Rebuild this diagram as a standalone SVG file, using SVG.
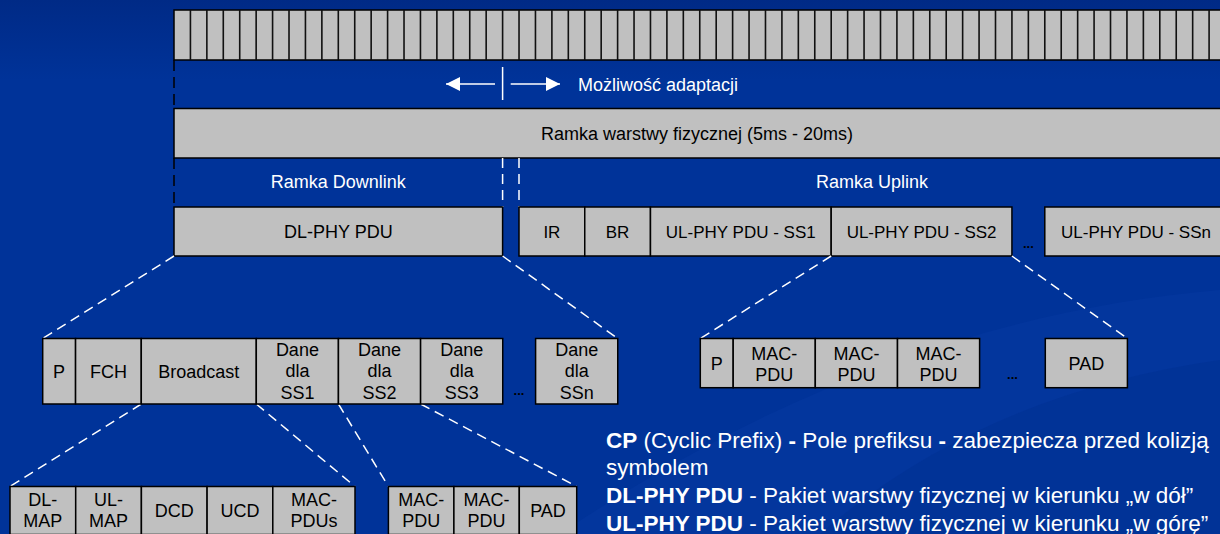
<svg xmlns="http://www.w3.org/2000/svg" width="1220" height="534" viewBox="0 0 1220 534">
<defs>
<linearGradient id="bg" x1="0" y1="0" x2="0" y2="1">
<stop offset="0" stop-color="#002a86"/>
<stop offset="0.15" stop-color="#003399"/>
<stop offset="1" stop-color="#003399"/>
</linearGradient>
<marker id="ah" viewBox="0 0 14 14" refX="14" refY="7" markerUnits="userSpaceOnUse" markerWidth="14" markerHeight="14" orient="auto">
<path d="M0,0 L14,7 L0,14 Z" fill="#fff"/>
</marker>
</defs>
<style>
.box{fill:#c0c0c0;stroke:#000;stroke-width:1.5}
.t{font-family:"Liberation Sans",Arial,sans-serif;font-size:18px;fill:#000;text-anchor:middle}
.u{font-size:17px}
.w{fill:#fff}
.dots{font-family:"Liberation Sans",Arial,sans-serif;font-size:13px;font-weight:bold;fill:#000;text-anchor:middle}
.dash{stroke:#fff;stroke-width:1.5;stroke-dasharray:10 6;fill:none}
.bdash{stroke:#000;stroke-width:1.5;stroke-dasharray:11 6;fill:none}
.note{font-family:"Liberation Sans",Arial,sans-serif;font-size:22.5px;fill:#fff}
.b{font-weight:bold}
</style>
<rect x="0" y="0" width="1220" height="534" fill="url(#bg)"/>
<path d="M560 534 C 760 400, 980 310, 1220 290 L1220 534 Z" fill="#0a3ca6" opacity="0.35"/>
<path d="M820 534 C 940 430, 1080 380, 1220 360 L1220 534 Z" fill="#002f92" opacity="0.5"/>

<g id="timeslots">
<rect x="174" y="10" width="1060" height="50" class="box"/>
<path d="M190.43 10V60M206.86 10V60M223.29 10V60M239.72 10V60M256.15 10V60M272.58 10V60M289.01 10V60M305.44 10V60M321.87 10V60M338.3 10V60M354.73 10V60M371.16 10V60M387.59 10V60M404.02 10V60M420.45 10V60M436.88 10V60M453.31 10V60M469.74 10V60M486.17 10V60M502.6 10V60M519.03 10V60M535.46 10V60M551.89 10V60M568.32 10V60M584.75 10V60M601.18 10V60M617.61 10V60M634.04 10V60M650.47 10V60M666.9 10V60M683.33 10V60M699.76 10V60M716.19 10V60M732.62 10V60M749.05 10V60M765.48 10V60M781.91 10V60M798.34 10V60M814.77 10V60M831.2 10V60M847.63 10V60M864.06 10V60M880.49 10V60M896.92 10V60M913.35 10V60M929.78 10V60M946.21 10V60M962.64 10V60M979.07 10V60M995.5 10V60M1011.93 10V60M1028.36 10V60M1044.79 10V60M1061.22 10V60M1077.65 10V60M1094.08 10V60M1110.51 10V60M1126.94 10V60M1143.37 10V60M1159.8 10V60M1176.23 10V60M1192.66 10V60M1209.09 10V60" stroke="#111" stroke-width="1.6" fill="none"/>
</g>

<g id="adaptation">
<line x1="495" y1="84" x2="446" y2="84" stroke="#fff" stroke-width="1.5" marker-end="url(#ah)"/>
<line x1="510.7" y1="84" x2="560" y2="84" stroke="#fff" stroke-width="1.5" marker-end="url(#ah)"/>
<line x1="502.6" y1="67" x2="502.6" y2="100" stroke="#fff" stroke-width="1.5"/>
<text x="578" y="90.5" class="t w" style="text-anchor:start">Możliwość adaptacji</text>
</g>

<g id="frame">
<rect x="174" y="108.5" width="1060" height="49.5" class="box"/>
<text x="697" y="139.5" class="t">Ramka warstwy fizycznej (5ms - 20ms)</text>
</g>

<g id="frame-edges">
<path d="M174 60V108M174 158V207" class="bdash"/>
<path d="M502.6 158V207M519 158V207" class="dash"/>
</g>

<g id="downlink-label"><text x="338.3" y="188" class="t w">Ramka Downlink</text></g>
<g id="uplink-label"><text x="872" y="188" class="t w">Ramka Uplink</text></g>

<g id="dl-phy-pdu">
<rect x="174" y="207" width="328.6" height="49" class="box"/>
<text x="338.3" y="238" class="t">DL-PHY PDU</text>
</g>
<g id="ir"><rect x="519" y="207" width="65.75" height="49" class="box"/><text x="551.9" y="238" class="t u">IR</text></g>
<g id="br"><rect x="584.75" y="207" width="65.72" height="49" class="box"/><text x="617.6" y="238" class="t u">BR</text></g>
<g id="ul-ss1"><rect x="650.47" y="207" width="180.73" height="49" class="box"/><text x="740.8" y="238" class="t u">UL-PHY PDU - SS1</text></g>
<g id="ul-ss2"><rect x="831.2" y="207" width="180.73" height="49" class="box"/><text x="921.6" y="238" class="t u">UL-PHY PDU - SS2</text></g>
<g id="ul-dots"><text x="1028.4" y="248" class="dots">...</text></g>
<g id="ul-ssn"><rect x="1044.79" y="207" width="190" height="49" class="box"/><text x="1136" y="238" class="t u">UL-PHY PDU - SSn</text></g>

<g id="connectors">
<line x1="174" y1="256" x2="42.7" y2="338.5" class="dash"/>
<line x1="502.6" y1="256" x2="617.75" y2="338.5" class="dash"/>
<line x1="831.2" y1="256" x2="700.3" y2="338.5" class="dash"/>
<line x1="1011.9" y1="256" x2="1127.4" y2="338.5" class="dash"/>
<line x1="141.28" y1="404" x2="10" y2="486.5" class="dash"/>
<line x1="256.29" y1="404" x2="355" y2="486.5" class="dash"/>
<line x1="338.44" y1="404" x2="388.4" y2="486.5" class="dash"/>
<line x1="420.59" y1="404" x2="576.7" y2="486.5" class="dash"/>
</g>

<g id="dl-p"><rect x="42.7" y="338.5" width="32.86" height="65.5" class="box"/><text x="59.1" y="377.5" class="t">P</text></g>
<g id="dl-fch"><rect x="75.56" y="338.5" width="65.72" height="65.5" class="box"/><text x="108.4" y="377.5" class="t">FCH</text></g>
<g id="dl-broadcast"><rect x="141.28" y="338.5" width="115.01" height="65.5" class="box"/><text x="198.8" y="377.5" class="t">Broadcast</text></g>
<g id="dl-ss1"><rect x="256.29" y="338.5" width="82.15" height="65.5" class="box"/><text class="t"><tspan x="297.4" y="355.5">Dane</tspan><tspan x="297.4" y="377">dla</tspan><tspan x="297.4" y="398.5">SS1</tspan></text></g>
<g id="dl-ss2"><rect x="338.44" y="338.5" width="82.15" height="65.5" class="box"/><text class="t"><tspan x="379.5" y="355.5">Dane</tspan><tspan x="379.5" y="377">dla</tspan><tspan x="379.5" y="398.5">SS2</tspan></text></g>
<g id="dl-ss3"><rect x="420.59" y="338.5" width="82.15" height="65.5" class="box"/><text class="t"><tspan x="461.7" y="355.5">Dane</tspan><tspan x="461.7" y="377">dla</tspan><tspan x="461.7" y="398.5">SS3</tspan></text></g>
<g id="dl-dots"><text x="519" y="395" class="dots">...</text></g>
<g id="dl-ssn"><rect x="535.6" y="338.5" width="82.15" height="65.5" class="box"/><text class="t"><tspan x="576.7" y="355.5">Dane</tspan><tspan x="576.7" y="377">dla</tspan><tspan x="576.7" y="398.5">SSn</tspan></text></g>

<g id="ul-p"><rect x="700.3" y="338.5" width="32.9" height="49.2" class="box"/><text x="716.7" y="369.5" class="t">P</text></g>
<g id="ul-mac1"><rect x="733.2" y="338.5" width="82.1" height="49.2" class="box"/><text class="t"><tspan x="774.2" y="359.5">MAC-</tspan><tspan x="774.2" y="380.5">PDU</tspan></text></g>
<g id="ul-mac2"><rect x="815.3" y="338.5" width="82.2" height="49.2" class="box"/><text class="t"><tspan x="856.4" y="359.5">MAC-</tspan><tspan x="856.4" y="380.5">PDU</tspan></text></g>
<g id="ul-mac3"><rect x="897.5" y="338.5" width="82.1" height="49.2" class="box"/><text class="t"><tspan x="938.5" y="359.5">MAC-</tspan><tspan x="938.5" y="380.5">PDU</tspan></text></g>
<g id="ul-dots2"><text x="1012.5" y="379" class="dots">...</text></g>
<g id="ul-pad"><rect x="1045.3" y="338.5" width="82.1" height="49.2" class="box"/><text x="1086.4" y="369.5" class="t">PAD</text></g>

<g id="bc-dlmap"><rect x="10" y="486.5" width="65.7" height="48" class="box"/><text class="t"><tspan x="42.85" y="505.5">DL-</tspan><tspan x="42.85" y="527">MAP</tspan></text></g>
<g id="bc-ulmap"><rect x="75.7" y="486.5" width="65.7" height="48" class="box"/><text class="t"><tspan x="108.55" y="505.5">UL-</tspan><tspan x="108.55" y="527">MAP</tspan></text></g>
<g id="bc-dcd"><rect x="141.4" y="486.5" width="65.7" height="48" class="box"/><text x="174.25" y="517" class="t">DCD</text></g>
<g id="bc-ucd"><rect x="207.1" y="486.5" width="65.7" height="48" class="box"/><text x="239.95" y="517" class="t">UCD</text></g>
<g id="bc-macpdus"><rect x="272.8" y="486.5" width="82.2" height="48" class="box"/><text class="t"><tspan x="313.9" y="505.5">MAC-</tspan><tspan x="313.9" y="527">PDUs</tspan></text></g>

<g id="ss-mac1"><rect x="388.4" y="486.5" width="65.5" height="48" class="box"/><text class="t"><tspan x="421.15" y="505.5">MAC-</tspan><tspan x="421.15" y="527">PDU</tspan></text></g>
<g id="ss-mac2"><rect x="453.9" y="486.5" width="65.4" height="48" class="box"/><text class="t"><tspan x="486.6" y="505.5">MAC-</tspan><tspan x="486.6" y="527">PDU</tspan></text></g>
<g id="ss-pad"><rect x="519.3" y="486.5" width="57.4" height="48" class="box"/><text x="548" y="517" class="t">PAD</text></g>

<g id="legend">
<text class="note"><tspan x="606" y="447.5"><tspan class="b">CP</tspan> (Cyclic Prefix) <tspan class="b">-</tspan> Pole prefiksu <tspan class="b">-</tspan> zabezpiecza przed kolizją</tspan><tspan x="606" y="475.2">symbolem</tspan><tspan x="606" y="502.9"><tspan class="b">DL-PHY PDU</tspan> - Pakiet warstwy fizycznej w kierunku „w dół”</tspan><tspan x="606" y="530.6"><tspan class="b">UL-PHY PDU</tspan> - Pakiet warstwy fizycznej w kierunku „w górę”</tspan></text>
</g>
</svg>
